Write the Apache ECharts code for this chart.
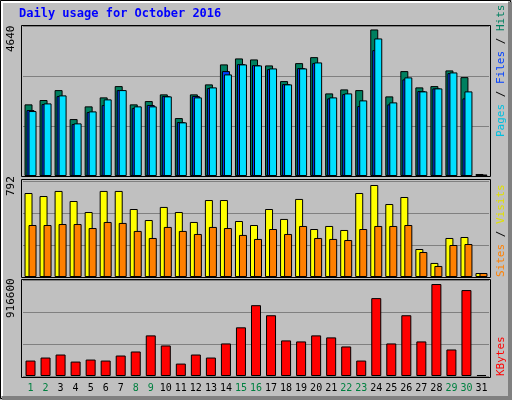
<!DOCTYPE html>
<html><head><meta charset="utf-8">
<script src="https://cdn.jsdelivr.net/npm/echarts@6/dist/echarts.min.js"></script>
<style>html,body{margin:0;padding:0;background:#c0c0c0}#c{width:512px;height:400px}</style>
</head><body><div id="c"></div>
<script>
const days = ['1','2','3','4','5','6','7','8','9','10','11','12','13','14','15','16','17','18','19','20','21','22','23','24','25','26','27','28','29','30','31'];
const weekend = ['1','2','8','9','15','16','22','23','29','30'];
const hits = [2216,2350,2657,1761,2154,2432,2781,2216,2318,2525,1792,2525,2834,3452,3637,3606,3421,2936,3492,3677,2555,2679,2657,4533,2463,3245,2741,2781,3266,3059,62];
const files = [2039,2225,2472,1607,1978,2194,2657,2101,2194,2472,1669,2472,2719,3245,3461,3430,3306,2843,3337,3492,2401,2534,2163,3893,2216,2988,2627,2710,3183,2401,31];
const pages = [2009,2246,2494,1628,1999,2370,2657,2154,2154,2463,1659,2432,2741,3143,3452,3421,3328,2834,3328,3513,2432,2555,2339,4255,2277,3050,2617,2710,3204,2617,46];
const sites = [693,668,710,627,536,710,710,561,470,578,536,454,635,635,462,429,561,479,644,396,421,388,693,759,602,660,231,116,322,330,33];
const visits = [429,429,437,437,404,454,446,380,322,413,380,355,413,404,347,314,396,355,421,322,314,305,396,421,421,429,206,91,264,272,33];
const kbytes = [147430,176275,205120,137815,157045,147430,195505,233965,387805,291655,118585,205120,176275,310885,464725,676255,580105,339730,330115,387805,368575,282040,147430,743560,310885,580105,330115,878170,253195,820480,9615];
const maxHits = 4640, maxVisits = 792, maxKB = 916600;

const font = 'DejaVu Sans Mono';
const chart = echarts.init(document.getElementById('c'));
const grids = [
  {left:23, width:466, top:26, height:150},
  {left:23, width:466, top:181, height:96},
  {left:23, width:466, top:280, height:96}
];
function xa(i, show){return {type:'category', gridIndex:i, data:days, axisLine:{show:false}, axisTick:{show:false},
  axisLabel:{show:show, interval:0, margin:7, fontFamily:font, fontSize:10,
    color: v => weekend.includes(v) ? '#008040' : '#000000'}};}
function ya(i, max){return {type:'value', gridIndex:i, min:0, max:max, interval:max/3, axisLabel:{show:false},
  axisLine:{show:false}, axisTick:{show:false}, splitLine:{lineStyle:{color:'#808080', width:1}}};}
const bs = {borderColor:'#000', borderWidth:1};
chart.setOption({
  animation:false,
  backgroundColor:'#c0c0c0',
  grid: grids,
  xAxis:[xa(0,false), xa(1,false), xa(2,true)],
  yAxis:[ya(0,maxHits), ya(1,maxVisits), ya(2,maxKB)],
  series:[
    {type:'bar', xAxisIndex:0, yAxisIndex:0, data:hits, barWidth:8, barGap:'-75%', itemStyle:Object.assign({color:'#008060'},bs)},
    {type:'bar', xAxisIndex:0, yAxisIndex:0, data:files, barWidth:8, barGap:'-75%', itemStyle:Object.assign({color:'#0040ff'},bs)},
    {type:'bar', xAxisIndex:0, yAxisIndex:0, data:pages, barWidth:8, barGap:'-75%', itemStyle:Object.assign({color:'#00e0ff'},bs)},
    {type:'bar', xAxisIndex:1, yAxisIndex:1, data:sites, barWidth:8, barGap:'-50%', itemStyle:Object.assign({color:'#ffff00'},bs)},
    {type:'bar', xAxisIndex:1, yAxisIndex:1, data:visits, barWidth:8, barGap:'-50%', itemStyle:Object.assign({color:'#ff8000'},bs)},
    {type:'bar', xAxisIndex:2, yAxisIndex:2, data:kbytes, barWidth:10, itemStyle:Object.assign({color:'#ff0000'},bs)}
  ],
  graphic:[
    {type:'rect', shape:{x:0.5,y:0.5,width:510,height:398}, style:{fill:null, stroke:'#000', lineWidth:1}, z:-1},
    {type:'polyline', shape:{points:[[2,396],[2,2],[508,2]]}, style:{stroke:'#ffffff', lineWidth:2, fill:null}, z:-1},
    {type:'rect', shape:{x:508,y:2,width:4,height:398}, style:{fill:'#808080'}, z:-1},
    {type:'rect', shape:{x:2,y:396,width:510,height:4}, style:{fill:'#808080'}, z:-1},
    {type:'rect', shape:{x:21.5,y:25.5,width:469,height:151}, style:{fill:null, stroke:'#000', lineWidth:1}, z:10},
    {type:'rect', shape:{x:21.5,y:179.5,width:469,height:98}, style:{fill:null, stroke:'#000', lineWidth:1}, z:10},
    {type:'rect', shape:{x:21.5,y:279.5,width:469,height:98}, style:{fill:null, stroke:'#000', lineWidth:1}, z:10},
    {type:'text', left:19, top:8, style:{text:'Daily usage for October 2016', fill:'#0000ff', font:'bold 12px "DejaVu Sans Mono"'}},
    {type:'text', x:17, y:52, rotation:Math.PI/2, style:{text:String(maxHits), fill:'#000', font:'11px "DejaVu Sans Mono"', textVerticalAlign:'bottom'}},
    {type:'text', x:17, y:196, rotation:Math.PI/2, style:{text:String(maxVisits), fill:'#000', font:'11px "DejaVu Sans Mono"', textVerticalAlign:'bottom'}},
    {type:'text', x:17, y:318, rotation:Math.PI/2, style:{text:String(maxKB), fill:'#000', font:'11px "DejaVu Sans Mono"', textVerticalAlign:'bottom'}},
    {type:'text', x:496, y:137, rotation:Math.PI/2, style:{text:'{a|Pages}{s| / }{b|Files}{s| / }{c|Hits}', textVerticalAlign:'top',
      rich:{a:{fill:'#00c0e0',font:'11px "DejaVu Sans Mono"'},b:{fill:'#0040ff',font:'11px "DejaVu Sans Mono"'},c:{fill:'#008060',font:'11px "DejaVu Sans Mono"'},s:{fill:'#000',font:'11px "DejaVu Sans Mono"'}}}},
    {type:'text', x:496, y:277, rotation:Math.PI/2, style:{text:'{a|Sites}{s| / }{b|Visits}', textVerticalAlign:'top',
      rich:{a:{fill:'#ff8000',font:'11px "DejaVu Sans Mono"'},b:{fill:'#e0e000',font:'11px "DejaVu Sans Mono"'},s:{fill:'#000',font:'11px "DejaVu Sans Mono"'}}}},
    {type:'text', x:496, y:376, rotation:Math.PI/2, style:{text:'KBytes', fill:'#ff0000', font:'11px "DejaVu Sans Mono"', textVerticalAlign:'top'}}
  ]
});
</script></body></html>
